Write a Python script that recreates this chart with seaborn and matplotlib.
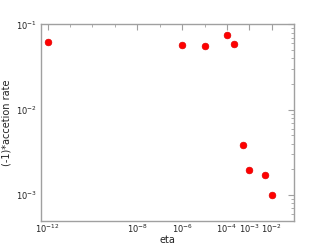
import matplotlib
matplotlib.use("Agg")
import matplotlib.pyplot as plt
import matplotlib.ticker as mticker
import seaborn as sns
import pandas as pd
import numpy as np

eta = [1e-12, 1e-6, 1e-5, 1e-4, 2e-4, 5e-4, 1e-3, 5e-3, 1e-2]
rate = [0.0615, 0.0578, 0.0557, 0.0763, 0.0589, 0.0039, 0.00196, 0.00169, 0.001]
xtick_vals = [1e-12, 1e-8, 1e-6, 1e-4, 1e-3, 1e-2]
xtick_labels = [r"$10^{-12}$", r"$10^{-8}$", r"$10^{-6}$", r"$10^{-4}$", r"$10^{-3}$", r"$10^{-2}$"]
xminor_vals = [1e-11, 1e-10, 1e-9, 1e-7, 1e-5]

sns.set_theme(style="white")
plt.rcParams['font.family'] = ['DejaVu Sans']
plt.rcParams['mathtext.default'] = 'regular'

df = pd.DataFrame({"eta": eta, "rate": rate})
fig = plt.figure(figsize=(3.27, 2.45), dpi=100)
ax = fig.add_axes([0.125, 0.1, 0.775, 0.8])
sns.scatterplot(data=df, x="eta", y="rate", ax=ax, color="#ff0000", s=23,
                edgecolor="#e00000", linewidth=0.5, zorder=3)
ax.set_xscale("log")
ax.set_yscale("log")
ax.set_xlim(5e-13, 1e-1)
ax.set_ylim(5e-4, 1e-1)

ax.xaxis.set_major_locator(mticker.FixedLocator(xtick_vals))
ax.xaxis.set_major_formatter(mticker.FixedFormatter(xtick_labels))
ax.xaxis.set_minor_locator(mticker.FixedLocator(xminor_vals))
ax.xaxis.set_minor_formatter(mticker.NullFormatter())
ax.yaxis.set_major_locator(mticker.LogLocator(base=10, numticks=10))
ax.yaxis.set_minor_locator(mticker.LogLocator(base=10, subs=np.arange(2, 10), numticks=20))
ax.yaxis.set_minor_formatter(mticker.NullFormatter())

spine_col = "#a0a0a0"
for s in ax.spines.values():
    s.set_color(spine_col)
    s.set_linewidth(1.0)
ax.tick_params(which="both", direction="in", top=True, right=True, color=spine_col,
               labelsize=6, labelcolor="#222222", pad=3)
ax.tick_params(axis="x", which="both", pad=1.5)
ax.tick_params(which="major", length=4, width=0.8)
ax.tick_params(which="minor", length=2, width=0.6)

ax.set_xlabel("eta", fontsize=7, color="#222222", labelpad=0)
ax.set_ylabel("(-1)*accetion rate", fontsize=7, color="#222222", labelpad=3)

fig.savefig("out.png", dpi=100)
